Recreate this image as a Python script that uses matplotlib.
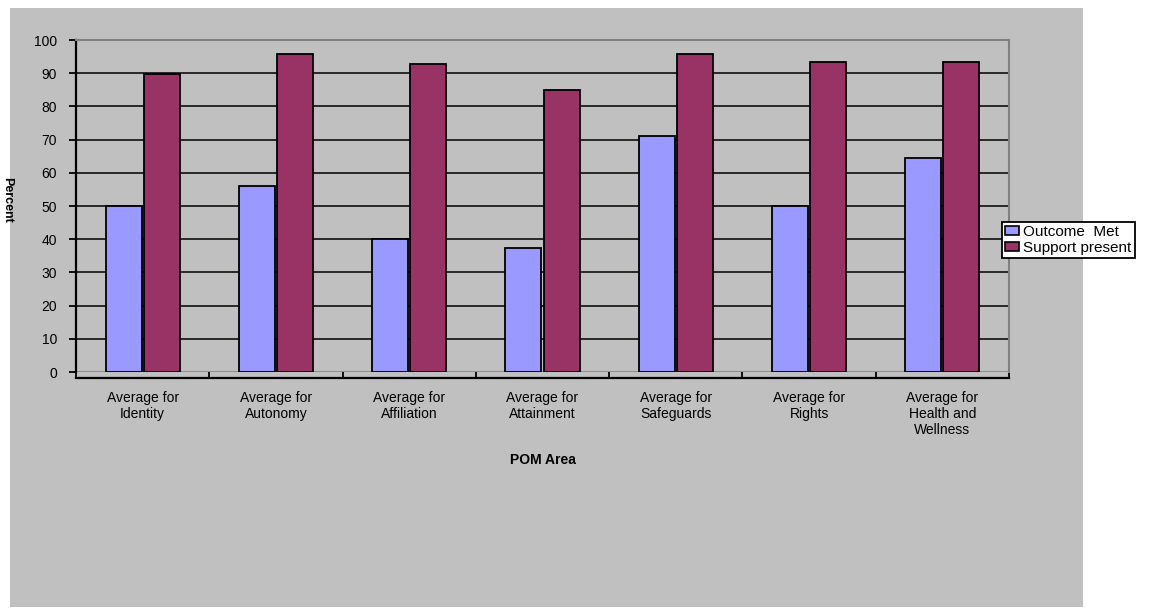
import numpy as np
import matplotlib
matplotlib.use("Agg")
import matplotlib.pyplot as plt
from matplotlib.patches import Rectangle

# Chart data
categories = [
    "Average for\nIdentity",
    "Average for\nAutonomy",
    "Average for\nAffiliation",
    "Average for\nAttainment",
    "Average for\nSafeguards",
    "Average for\nRights",
    "Average for\nHealth and\nWellness",
]
outcome_met = [50, 56, 40, 37.5, 71, 50, 64.5]
support_present = [89.7, 95.8, 92.9, 85, 95.8, 93.5, 93.5]
series_names = ["Outcome  Met", "Support present"]
y_ticks = [0, 10, 20, 30, 40, 50, 60, 70, 80, 90, 100]

plt.rcParams["font.family"] = ["Liberation Sans", "DejaVu Sans"]

W, H = 1170, 614
fig = plt.figure(figsize=(W / 100, H / 100), dpi=100)
fig.patch.set_facecolor("white")

# Gray chart area behind everything
fig.add_artist(Rectangle((10 / W, 1 - 607 / H), (1083 - 10) / W, (607 - 8) / H,
                         transform=fig.transFigure, facecolor="#C0C0C0",
                         edgecolor="none", zorder=-10))

left, right, top, bottom = 76, 1009, 40, 372
ax = fig.add_axes([left / W, 1 - bottom / H, (right - left) / W, (bottom - top) / H])
ax.set_facecolor("#C0C0C0")

x = np.arange(len(categories))
bw = 0.27
off = 0.143
ax.bar(x - off, outcome_met, bw, color="#9999FF", edgecolor="black", linewidth=1.3, zorder=3)
ax.bar(x + off, support_present, bw, color="#993366", edgecolor="black", linewidth=1.3, zorder=3)

ax.set_xlim(-0.5, len(categories) - 0.5)
ax.set_ylim(0, 100)

# Y axis
ax.set_yticks(y_ticks)
ax.set_yticklabels([str(v) for v in y_ticks], fontsize=10)
ax.tick_params(axis="y", direction="out", length=5, width=1.3, pad=8.5, colors="black")
ax.set_axisbelow(True)
ax.yaxis.grid(True, color="black", linewidth=1.1)
glines = ax.get_ygridlines()
glines[0].set_color("#808080")
glines[-1].set_color("#808080")

# X axis: boundary ticks and centred category labels
ax.set_xticks(np.arange(-0.5, len(categories)), labels=[""] * (len(categories) + 1))
ax.set_xticks(x, labels=categories, minor=True)
ax.tick_params(axis="x", which="major", direction="in", length=4.5, width=1.3)
ax.tick_params(axis="x", which="minor", length=0, pad=9)
for lbl in ax.get_xticklabels(minor=True):
    lbl.set_fontsize(10.5)
    lbl.set_linespacing(1.35)

ax.spines["bottom"].set_position(("outward", 4.5))
ax.spines["bottom"].set_linewidth(1.6)
ax.spines["left"].set_linewidth(1.6)
ax.spines["top"].set_color("#808080")
ax.spines["top"].set_linewidth(1.5)
ax.spines["right"].set_color("#808080")
ax.spines["right"].set_linewidth(1.5)

ax.set_xlabel("POM Area", fontsize=10, fontweight="bold")
ax.xaxis.set_label_coords(0.5, (bottom - 453) / (bottom - top))

fig.text(7 / W, 1 - 200 / H, "Percent", rotation=-90, ha="center", va="center",
         fontsize=9, fontweight="bold")

# Legend
handles = [Rectangle((0, 0), 1, 1, facecolor=c, edgecolor="black", linewidth=1.2)
           for c in ("#9999FF", "#993366")]
leg = fig.legend(handles, series_names, loc="upper left",
                 bbox_to_anchor=(1002 / W, 1 - 222 / H), bbox_transform=fig.transFigure,
                 fontsize=11, frameon=True, fancybox=False, framealpha=1,
                 edgecolor="black", facecolor="white", borderpad=0.2,
                 handlelength=0.9, handleheight=0.55, handletextpad=0.3,
                 labelspacing=0.1, borderaxespad=0)
leg.get_frame().set_linewidth(1.3)

fig.savefig("out.png", dpi=100, facecolor=fig.get_facecolor())
